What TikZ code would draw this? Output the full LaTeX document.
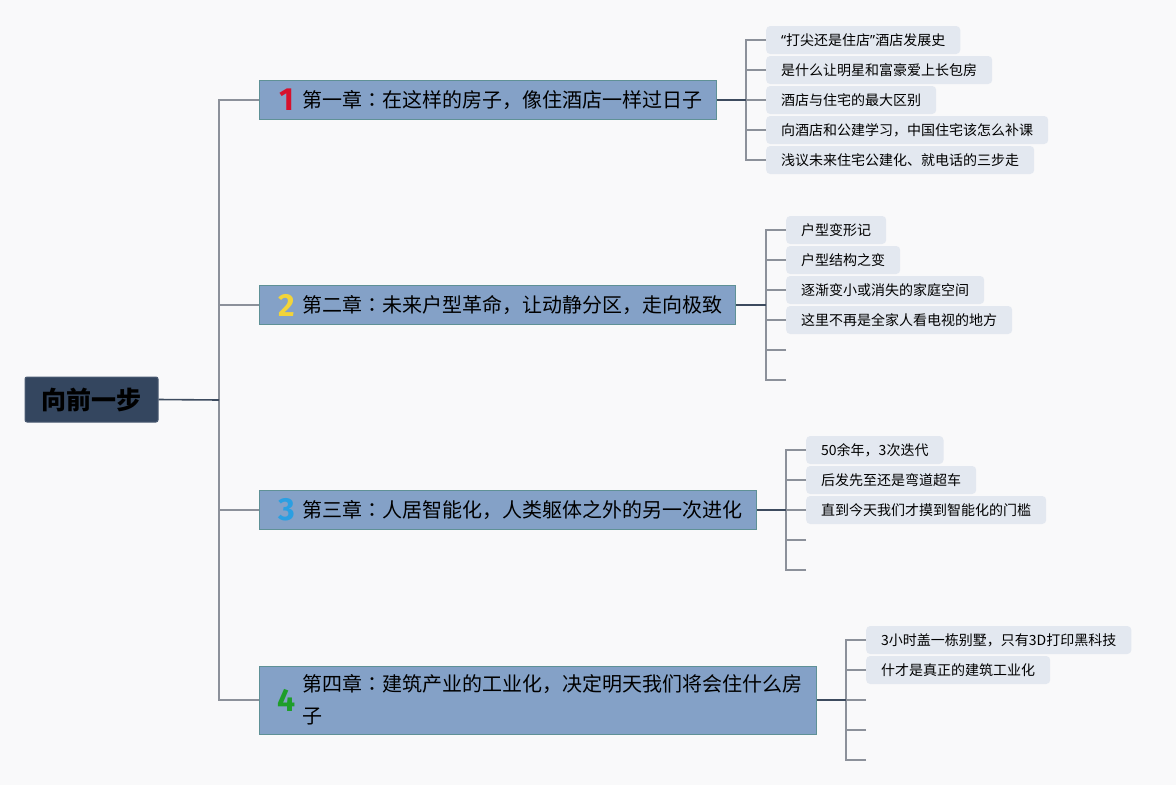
\documentclass[tikz,border=0pt]{standalone}
\usepackage{fontspec}
\setmainfont{Noto Sans CJK SC}
\newfontfamily\numfont{Fira Sans}
\newfontfamily\tcfont{Noto Sans CJK TC}
\newfontfamily\latfont{Noto Sans}
\newcommand{\zcolon}{{\tcfont ：}}
\definecolor{bgc}{HTML}{F9F9FA}
\definecolor{rootc}{HTML}{34465F}
\definecolor{rootb}{HTML}{4B5B72}
\definecolor{chapc}{HTML}{84A1C7}
\definecolor{chapb}{HTML}{5F9196}
\definecolor{leafc}{HTML}{E3E8F0}
\definecolor{linec}{HTML}{8C919A}
\definecolor{darkl}{HTML}{3D4B5E}
\definecolor{numa}{HTML}{D7102C}
\definecolor{numb}{HTML}{F2D43A}
\definecolor{numc}{HTML}{2B9FE2}
\definecolor{numd}{HTML}{1E9E2A}
\begin{document}
\begin{tikzpicture}[x=1pt,y=-1pt,
  rootbox/.style={draw=rootb,fill=rootc,rounded corners=2pt,line width=1pt,minimum width=133pt,minimum height=45pt,inner sep=0pt,font=\fontsize{25}{30}\selectfont\bfseries},
  chapbox/.style={draw=chapb,fill=chapc,line width=1pt,anchor=west,inner xsep=0pt,inner ysep=0pt,minimum height=39pt,align=left,font=\fontsize{20}{32}\selectfont},
  numlab/.style={inner sep=0pt,font=\numfont\bfseries\fontsize{32}{32}\selectfont},
  leafbox/.style={fill=leafc,rounded corners=4pt,anchor=west,inner xsep=15pt,inner ysep=0pt,minimum height=28pt,font=\fontsize{14}{16}\selectfont},
  conn/.style={draw=linec,line width=1.4pt},
  dconn/.style={draw=darkl,line width=1.6pt}]
\fill[bgc] (0,0) rectangle (1176,785);
\useasboundingbox (0,0) rectangle (1176,785);

% root
\node (root) [rootbox] at (91.5,399.5) {向前一步};
\coordinate (trunk) at (219,400);

% chapters
\node (c1) [chapbox,text width=457pt] at (259,100) {\hspace*{43pt}第一章\zcolon 在这样的房子，像住酒店一样过日子};
\node (c2) [chapbox,text width=476pt] at (259,305) {\hspace*{43pt}第二章\zcolon 未来户型革命，让动静分区，走向极致};
\node (c3) [chapbox,text width=497pt] at (259,510) {\hspace*{43pt}第三章\zcolon 人居智能化，人类躯体之外的另一次进化};
\node (c4) [chapbox,text width=557pt,minimum height=68pt] at (259,700) {\hspace*{43pt}第四章\zcolon 建筑产业的工业化，决定明天我们将会住什么房\\\hspace*{43pt}子};

\node (n1) [numlab,text=numa] at (287,100) {1};
\node (n2) [numlab,text=numb] at (287,305) {2};
\node (n3) [numlab,text=numc] at (287,510) {3};
\node (n4) [numlab,text=numd] at (287,700) {4};

% root to chapters
\draw[conn] (c1.west) -| (trunk);
\draw[conn] (c2.west) -| (trunk);
\draw[conn] (c3.west) -| (trunk);
\draw[conn] (c4.west) -| (trunk);
\draw[dconn] (root.east) -- (trunk);

% chapter 1 leaves
\coordinate (j1) at (746,100);
\node (l11) [leafbox] at (766,40) {{\latfont “}打尖还是住店{\latfont ”}酒店发展史};
\node (l12) [leafbox] at (766,70) {是什么让明星和富豪爱上长包房};
\node (l13) [leafbox] at (766,100) {酒店与住宅的最大区别};
\node (l14) [leafbox] at (766,130) {向酒店和公建学习，中国住宅该怎么补课};
\node (l15) [leafbox] at (766,160) {浅议未来住宅公建化、就电话的三步走};
\foreach \n in {l11,l12,l13,l14,l15} \draw[conn] (\n.west) -| (j1);
\draw[dconn] (c1.east) -- (j1);

% chapter 2 leaves
\coordinate (j2) at (766,305);
\node (l21) [leafbox] at (786,230) {户型变形记};
\node (l22) [leafbox] at (786,260) {户型结构之变};
\node (l23) [leafbox] at (786,290) {逐渐变小或消失的家庭空间};
\node (l24) [leafbox] at (786,320) {这里不再是全家人看电视的地方};
\coordinate (e25) at (786,350);
\coordinate (e26) at (786,380);
\foreach \n in {l21,l22,l23,l24} \draw[conn] (\n.west) -| (j2);
\foreach \n in {e25,e26} \draw[conn] (\n) -| (j2);
\draw[dconn] (c2.east) -- (j2);

% chapter 3 leaves
\coordinate (j3) at (786,510);
\node (l31) [leafbox] at (806,450) {50余年，3次迭代};
\node (l32) [leafbox] at (806,480) {后发先至还是弯道超车};
\node (l33) [leafbox] at (806,510) {直到今天我们才摸到智能化的门槛};
\coordinate (e34) at (806,540);
\coordinate (e35) at (806,570);
\foreach \n in {l31,l32,l33} \draw[conn] (\n.west) -| (j3);
\foreach \n in {e34,e35} \draw[conn] (\n) -| (j3);
\draw[dconn] (c3.east) -- (j3);

% chapter 4 leaves
\coordinate (j4) at (846,700);
\node (l41) [leafbox] at (866,640) {3小时盖一栋别墅，只有3D打印黑科技};
\node (l42) [leafbox] at (866,670) {什才是真正的建筑工业化};
\coordinate (e43) at (866,700);
\coordinate (e44) at (866,730);
\coordinate (e45) at (866,760);
\foreach \n in {l41,l42} \draw[conn] (\n.west) -| (j4);
\foreach \n in {e43,e44,e45} \draw[conn] (\n) -| (j4);
\draw[dconn] (c4.east) -- (j4);
\end{tikzpicture}
\end{document}
